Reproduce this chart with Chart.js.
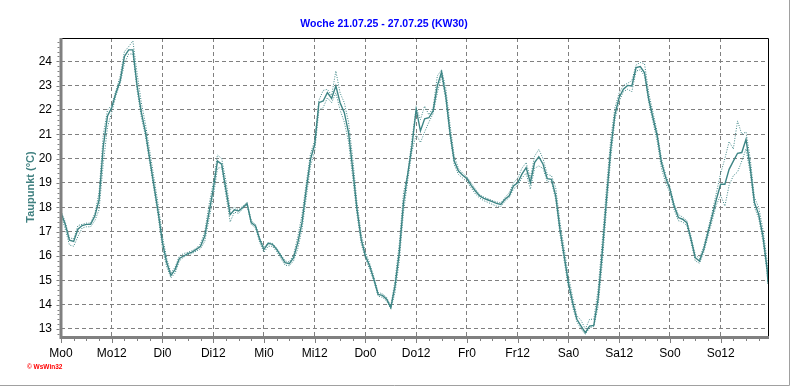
<!DOCTYPE html>
<html>
<head>
<meta charset="utf-8">
<script src="https://cdn.jsdelivr.net/npm/chart.js@4/dist/chart.umd.min.js"></script>
<style>
  html, body { margin: 0; padding: 0; background: #fff; }
</style>
</head>
<body>
<canvas id="myChart" width="792" height="387"></canvas>
<script>
// x axis labels, one every 12 hours
const dayLabels = ['Mo0', 'Mo12', 'Di0', 'Di12', 'Mi0', 'Mi12', 'Do0', 'Do12',
                   'Fr0', 'Fr12', 'Sa0', 'Sa12', 'So0', 'So12'];

// hours since Monday 0:00
const hours = [];
for (let h = 0; h <= 167; h++) hours.push(h);
hours.push(167.2);

// dew point (°C), hourly mean
const taupunkt = [
  17.78, 17.3, 16.65, 16.6, 17.1, 17.25, 17.3, 17.3, 17.64, 18.3, 20.5, 21.75,
  22.1, 22.7, 23.2, 24.2, 24.47, 24.47, 23.0, 21.9, 21.07, 19.97, 18.88, 17.78,
  16.55, 15.73, 15.2, 15.45, 15.9, 16.0, 16.1, 16.16, 16.27, 16.4, 16.82, 17.78,
  18.74, 19.9, 19.77, 18.74, 17.7, 17.9, 17.85, 17.99, 18.15, 17.37, 17.23, 16.68,
  16.27, 16.52, 16.48, 16.27, 16.0, 15.73, 15.68, 15.93, 16.55, 17.37, 18.74, 19.97,
  20.59, 22.3, 22.37, 22.71, 22.47, 22.99, 22.3, 21.89, 21.07, 19.56, 17.92, 16.68,
  16.0, 15.59, 15.04, 14.42, 14.38, 14.22, 13.88, 14.77, 16.14, 18.19, 19.36, 20.52,
  22.03, 21.14, 21.64, 21.68, 21.96, 22.99, 23.56, 22.58, 21.07, 19.9, 19.49, 19.32,
  19.18, 18.9, 18.67, 18.47, 18.37, 18.3, 18.23, 18.16, 18.12, 18.33, 18.47, 18.88,
  19.01, 19.36, 19.63, 19.01, 19.84, 20.08, 19.77, 19.18, 19.15, 18.47, 17.1, 16.0,
  14.9, 14.08, 13.4, 13.12, 12.85, 13.12, 13.15, 14.22, 16.14, 18.33, 20.38, 21.82,
  22.51, 22.85, 23.01, 22.99, 23.74, 23.78, 23.53, 22.44, 21.68, 20.93, 19.84, 19.22,
  18.74, 18.05, 17.58, 17.51, 17.37, 16.68, 15.93, 15.79, 16.27, 16.96, 17.64, 18.33,
  18.95, 18.95, 19.56, 19.9, 20.22, 20.25, 20.79, 19.63, 18.19, 17.71, 16.82, 15.45,
  14.9
];

// dew point, hourly max (upper dotted line)
const taupunktMax = [
  17.85, 17.4, 16.75, 16.7, 17.25, 17.3, 17.35, 17.35, 17.75, 18.6, 21.0, 22.0,
  22.2, 22.8, 23.4, 24.4, 24.6, 24.84, 23.5, 22.3, 21.4, 20.3, 19.2, 18.1,
  16.8, 15.9, 15.3, 15.55, 16.0, 16.1, 16.15, 16.22, 16.32, 16.5, 17.0, 18.1,
  19.0, 20.15, 20.0, 19.1, 17.9, 18.0, 17.9, 18.05, 18.2, 17.45, 17.3, 16.75,
  16.35, 16.55, 16.52, 16.33, 16.05, 15.8, 15.75, 16.05, 16.8, 17.7, 19.0, 20.2,
  20.75, 22.4, 22.8, 22.85, 22.6, 23.6, 22.7, 22.3, 21.5, 20.0, 18.2, 16.9,
  16.15, 15.7, 15.15, 14.5, 14.45, 14.3, 13.95, 15.0, 16.5, 18.6, 19.4, 20.8,
  22.1, 21.6, 22.16, 21.8, 22.1, 23.4, 23.65, 22.9, 21.4, 20.1, 19.6, 19.4,
  19.25, 19.0, 18.75, 18.52, 18.42, 18.35, 18.28, 18.22, 18.18, 18.4, 18.6, 19.0,
  19.2, 19.6, 19.84, 19.2, 20.1, 20.38, 20.0, 19.35, 19.3, 18.8, 17.4, 16.3,
  15.2, 14.3, 13.55, 13.35, 13.0, 13.4, 13.4, 14.6, 16.6, 18.8, 20.8, 22.1,
  22.7, 23.0, 23.1, 23.2, 23.85, 23.95, 23.9, 22.7, 21.9, 21.1, 20.0, 19.35,
  18.85, 18.15, 17.7, 17.6, 17.45, 16.8, 16.05, 15.9, 16.4, 17.1, 17.8, 18.6,
  19.4, 20.0, 20.7, 20.4, 21.55, 21.0, 21.1, 20.0, 18.4, 18.0, 17.1, 15.8,
  15.0
];

// dew point, hourly min (lower dotted line)
const taupunktMin = [
  17.7, 17.1, 16.45, 16.4, 16.8, 17.15, 17.2, 17.2, 17.45, 17.9, 19.8, 21.3,
  21.9, 22.6, 23.1, 23.9, 24.3, 24.3, 22.8, 21.7, 20.9, 19.8, 18.7, 17.6,
  16.3, 15.55, 15.1, 15.3, 15.8, 15.95, 16.05, 16.1, 16.2, 16.3, 16.6, 17.5,
  18.4, 19.6, 19.65, 18.5, 17.4, 17.8, 17.75, 17.95, 18.1, 17.3, 17.15, 16.55,
  16.15, 16.4, 16.4, 16.18, 15.9, 15.62, 15.6, 15.8, 16.3, 17.1, 18.4, 19.7,
  20.3, 22.0, 22.1, 22.5, 22.3, 22.7, 22.0, 21.5, 20.7, 19.2, 17.7, 16.5,
  15.9, 15.45, 14.95, 14.35, 14.3, 14.15, 13.82, 14.5, 15.8, 17.8, 19.1, 20.3,
  21.0, 20.66, 21.1, 21.5, 21.85, 22.7, 23.4, 22.4, 20.9, 19.75, 19.35, 19.2,
  19.05, 18.8, 18.55, 18.38, 18.27, 18.2, 18.12, 18.05, 18.03, 18.25, 18.4, 18.75,
  18.9, 19.2, 19.4, 18.74, 19.6, 19.7, 19.6, 19.05, 19.05, 18.3, 16.9, 15.8,
  14.7, 13.9, 13.3, 13.0, 12.78, 13.05, 13.1, 13.9, 15.7, 17.9, 20.0, 21.6,
  22.35, 22.75, 22.85, 22.75, 23.6, 23.65, 23.4, 22.3, 21.5, 20.7, 19.6, 19.0,
  18.6, 17.9, 17.45, 17.4, 17.25, 16.55, 15.8, 15.7, 16.15, 16.8, 17.45, 18.1,
  18.5, 18.05, 18.9, 19.3, 19.45, 19.9, 20.4, 19.4, 18.0, 17.55, 16.6, 15.3,
  14.8
];

const lineColor = '#3d8585';
const toPoints = arr => hours.map((h, i) => ({ x: h, y: arr[i] }));

// axes, tick marks, frame and logo drawn on top
const frame = {
  id: 'frame',
  afterDraw(chart) {
    const { ctx, chartArea: a, scales: { x, y } } = chart;
    ctx.save();
    ctx.strokeStyle = '#000';
    ctx.lineWidth = 1;
    ctx.beginPath();
    ctx.moveTo(a.left, a.top + 0.5);
    ctx.lineTo(a.right + 0.5, a.top + 0.5);
    ctx.lineTo(a.right + 0.5, a.bottom);
    ctx.stroke();

    ctx.strokeStyle = '#808080';
    ctx.lineWidth = 3;
    ctx.beginPath();
    ctx.moveTo(a.left, a.top);
    ctx.lineTo(a.left, a.bottom + 1.5);
    ctx.lineTo(a.right + 1, a.bottom + 1.5);
    ctx.stroke();

    ctx.lineWidth = 1;
    ctx.beginPath();
    for (let h = 0; h <= 167; h += 3) {
      const px = Math.round(x.getPixelForValue(h)) + 0.5;
      const len = h % 12 === 0 ? 4 : 2;
      ctx.moveTo(px, a.bottom + 3);
      ctx.lineTo(px, a.bottom + 3 + len);
    }
    for (let v = 128; v <= 249; v += 2) {
      const py = Math.round(y.getPixelForValue(v / 10)) + 0.5;
      const len = v % 10 === 0 ? 3 : 2;
      ctx.moveTo(a.left - 1.5, py);
      ctx.lineTo(a.left - 1.5 - len, py);
    }
    ctx.stroke();

    ctx.strokeStyle = '#a0a0a0';
    ctx.beginPath();
    ctx.moveTo(789.5, 0);
    ctx.lineTo(789.5, 385.5);
    ctx.lineTo(0, 385.5);
    ctx.stroke();

    ctx.fillStyle = '#ff0000';
    ctx.font = 'bold 6.5px "Liberation Sans", Arial, sans-serif';
    ctx.textBaseline = 'middle';
    ctx.fillText('© WsWin32', 27, 367);
    ctx.restore();
  }
};

new Chart(document.getElementById('myChart').getContext('2d'), {
  type: 'line',
  data: {
    datasets: [
      { data: toPoints(taupunktMax), borderColor: lineColor, borderWidth: 1, borderDash: [1, 1.5] },
      { data: toPoints(taupunktMin), borderColor: lineColor, borderWidth: 1, borderDash: [1, 1.5] },
      { data: toPoints(taupunkt), borderColor: lineColor, borderWidth: 1.4 }
    ]
  },
  options: {
    responsive: false,
    animation: false,
    devicePixelRatio: 1,
    layout: { padding: { left: 0, right: 24, top: 0, bottom: 0 } },
    elements: { point: { radius: 0 }, line: { tension: 0 } },
    plugins: {
      legend: { display: false },
      tooltip: { enabled: false },
      title: {
        display: true,
        text: 'Woche 21.07.25 - 27.07.25 (KW30)',
        color: '#0000ff',
        font: { family: '"Liberation Sans", Arial, sans-serif', size: 10.5, weight: 'bold' },
        padding: { top: 18, bottom: 7.4 }
      }
    },
    scales: {
      x: {
        type: 'linear',
        min: 0,
        max: 167.2,
        afterFit: s => { s.height = 51; },
        grid: { color: '#808080', drawTicks: false },
        border: { display: false, dash: [4, 3] },
        ticks: {
          stepSize: 12,
          includeBounds: false,
          autoSkip: false,
          maxRotation: 0,
          padding: 10,
          color: '#000',
          font: { family: '"Liberation Sans", Arial, sans-serif', size: 12 },
          callback: v => dayLabels[v / 12]
        }
      },
      y: {
        min: 12.712,
        max: 24.957,
        afterFit: s => { s.width = 61; },
        grid: { color: '#808080', drawTicks: false },
        border: { display: false, dash: [4, 3] },
        title: {
          display: true,
          text: 'Taupunkt (°C)',
          color: '#408080',
          font: { family: '"Liberation Sans", Arial, sans-serif', size: 11, weight: 'bold' },
          padding: { top: 24, bottom: 0 }
        },
        ticks: {
          stepSize: 1,
          includeBounds: false,
          padding: 9,
          color: '#000',
          font: { family: '"Liberation Sans", Arial, sans-serif', size: 12 }
        }
      }
    }
  },
  plugins: [frame]
});
</script>
</body>
</html>
